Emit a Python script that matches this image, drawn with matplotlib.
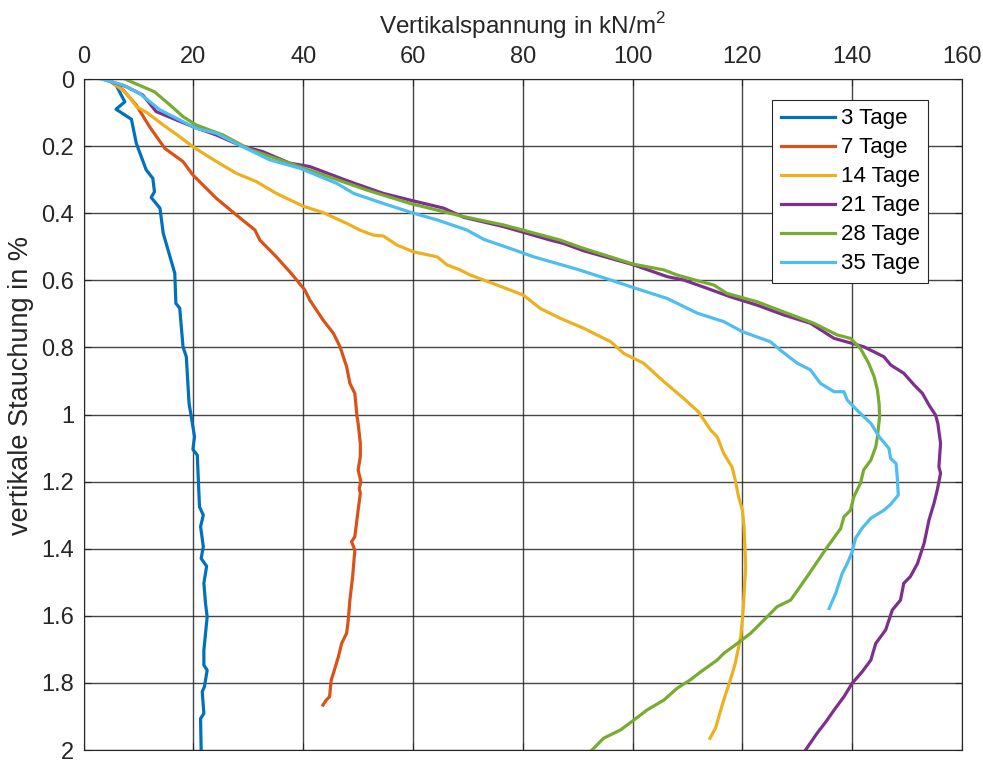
import matplotlib
matplotlib.use("Agg")
import matplotlib.pyplot as plt

plt.rcParams['font.family'] = ['Liberation Sans', 'DejaVu Sans']

# Vertikalspannung (kN/m²) und vertikale Stauchung (%) je Probenalter
tage_3_x = [4.4, 5.9, 7.5, 5.9, 8.7, 9.6, 11.4, 12.6, 12.9, 12.3, 13.9, 14.5, 16.0, 16.6, 16.8, 17.5,
            18.1, 18.7, 19.2, 19.6, 20.2, 19.9, 20.7, 21.1, 21.8, 21.3, 21.8, 21.4, 22.4, 21.9,
            22.2, 22.5, 21.9, 21.9, 22.5, 22.0, 21.6, 21.9, 21.3, 21.4]
tage_3_y = [0.0, 0.018, 0.068, 0.090, 0.120, 0.192, 0.271, 0.296, 0.336, 0.353, 0.385, 0.460, 0.545,
            0.579, 0.669, 0.683, 0.798, 0.828, 0.967, 1.006, 1.066, 1.104, 1.121, 1.275, 1.300,
            1.334, 1.394, 1.429, 1.452, 1.503, 1.563, 1.603, 1.702, 1.747, 1.762, 1.811, 1.826,
            1.891, 1.906, 2.0]

tage_7_x = [4.2, 7.2, 9.6, 12.0, 14.8, 18.1, 19.9, 24.2, 27.8, 31.2, 32.1, 35.1, 37.8, 40.3, 41.2,
            43.6, 45.5, 46.7, 47.9, 48.5, 49.4, 49.8, 50.0, 50.4, 50.4, 50.0, 50.5, 50.2, 50.4,
            50.0, 49.4, 48.8, 49.4, 49.0, 48.5, 48.2, 47.9, 47.0, 46.4, 45.5, 45.1, 44.8, 44.2, 43.6]
tage_7_y = [0.0, 0.033, 0.078, 0.142, 0.207, 0.246, 0.286, 0.356, 0.405, 0.450, 0.480, 0.530, 0.579,
            0.629, 0.659, 0.718, 0.758, 0.798, 0.857, 0.907, 0.937, 1.006, 1.026, 1.086, 1.126,
            1.165, 1.200, 1.220, 1.235, 1.285, 1.364, 1.379, 1.404, 1.483, 1.553, 1.613, 1.652,
            1.682, 1.722, 1.771, 1.791, 1.841, 1.851, 1.866]

tage_14_x = [4.5, 7.8, 9.6, 11.7, 14.5, 17.5, 19.9, 24.2, 27.8, 31.5, 35.1, 40.0, 43.6, 47.9, 50.3,
             52.7, 54.6, 57.1, 60.1, 64.4, 66.2, 68.6, 70.4, 75.3, 80.1, 83.2, 86.8, 91.1, 96.0,
             98.4, 102.0, 105.7, 109.3, 112.0, 114.2, 115.4, 116.6, 118.1, 118.7, 119.3, 120.0,
             120.3, 120.4, 120.6, 120.1, 119.7, 118.7, 117.8, 116.6, 115.7, 115.1, 114.1]
tage_14_y = [0.0, 0.043, 0.082, 0.102, 0.137, 0.172, 0.202, 0.246, 0.281, 0.306, 0.341, 0.379, 0.398,
             0.430, 0.450, 0.465, 0.468, 0.495, 0.515, 0.530, 0.554, 0.569, 0.584, 0.614, 0.644,
             0.684, 0.713, 0.743, 0.783, 0.818, 0.847, 0.902, 0.952, 0.992, 1.046, 1.066, 1.116,
             1.156, 1.195, 1.245, 1.285, 1.334, 1.374, 1.454, 1.593, 1.662, 1.742, 1.791, 1.851,
             1.901, 1.935, 1.965]

tage_21_x = [3.5, 7.8, 10.8, 13.2, 16.9, 19.9, 24.2, 28.4, 32.7, 37.6, 41.2, 48.5, 54.6, 59.5, 65.6,
             69.2, 76.5, 85.0, 87.4, 91.1, 100.2, 106.3, 109.3, 113.6, 117.8, 122.7, 127.5, 132.4,
             136.7, 140.0, 142.1, 145.8, 147.0, 149.4, 151.3, 152.8, 154.0, 155.2, 155.6, 156.1,
             155.8, 156.1, 155.5, 154.9, 154.0, 153.1, 151.9, 150.6, 149.4, 148.8, 147.3, 146.1,
             144.3, 143.4, 141.8, 140.0, 138.5, 136.7, 135.2, 133.6, 131.5]
tage_21_y = [0.0, 0.023, 0.048, 0.097, 0.122, 0.142, 0.167, 0.197, 0.217, 0.251, 0.261, 0.306, 0.341,
             0.361, 0.385, 0.412, 0.440, 0.480, 0.490, 0.512, 0.554, 0.589, 0.599, 0.624, 0.649,
             0.674, 0.703, 0.728, 0.773, 0.788, 0.798, 0.828, 0.852, 0.877, 0.912, 0.937, 0.972,
             1.002, 1.026, 1.086, 1.156, 1.175, 1.225, 1.265, 1.314, 1.384, 1.444, 1.483, 1.503,
             1.553, 1.583, 1.642, 1.682, 1.732, 1.767, 1.801, 1.841, 1.881, 1.916, 1.950, 2.0]

tage_28_x = [7.5, 12.9, 15.7, 18.1, 20.5, 25.4, 30.3, 40.7, 51.6, 59.5, 69.2, 76.5, 86.8, 91.1,
             100.2, 105.7, 108.1, 112.0, 114.8, 117.2, 122.7, 127.5, 133.0, 137.3, 139.7, 141.5,
             143.0, 144.0, 144.6, 144.9, 145.0, 144.6, 144.3, 143.4, 142.1, 141.5, 140.3, 139.7,
             138.5, 137.9, 135.5, 131.8, 128.8, 126.3, 124.5, 121.5, 119.1, 116.6, 115.4, 112.4,
             110.5, 108.1, 105.7, 102.6, 100.2, 97.8, 94.7, 92.6]
tage_28_y = [0.0, 0.038, 0.077, 0.112, 0.137, 0.167, 0.210, 0.269, 0.331, 0.371, 0.410, 0.435, 0.480,
             0.505, 0.552, 0.569, 0.584, 0.602, 0.614, 0.639, 0.664, 0.694, 0.728, 0.763, 0.773,
             0.803, 0.847, 0.887, 0.927, 0.967, 1.006, 1.066, 1.096, 1.136, 1.165, 1.205, 1.245,
             1.285, 1.305, 1.340, 1.394, 1.483, 1.553, 1.573, 1.603, 1.652, 1.682, 1.712, 1.732,
             1.767, 1.791, 1.816, 1.851, 1.881, 1.911, 1.940, 1.965, 2.0]

tage_35_x = [3.2, 7.2, 10.2, 13.9, 16.9, 20.5, 24.2, 28.4, 33.9, 39.4, 46.1, 49.2, 54.6, 60.1, 64.4,
             69.8, 72.9, 77.7, 82.0, 89.9, 96.0, 100.2, 106.3, 111.8, 116.6, 120.0, 125.1, 126.9,
             130.0, 132.4, 134.2, 136.7, 138.5, 139.1, 141.5, 143.4, 144.9, 146.7, 147.0, 148.0,
             148.2, 148.4, 147.0, 145.8, 143.4, 141.8, 140.6, 140.0, 139.1, 138.2, 137.6, 137.0, 135.8]
tage_35_y = [0.0, 0.018, 0.043, 0.092, 0.117, 0.147, 0.162, 0.197, 0.241, 0.266, 0.311, 0.341, 0.371,
             0.400, 0.420, 0.450, 0.478, 0.505, 0.530, 0.567, 0.599, 0.622, 0.654, 0.698, 0.723,
             0.753, 0.783, 0.808, 0.847, 0.867, 0.907, 0.932, 0.932, 0.957, 0.997, 1.026, 1.066,
             1.101, 1.131, 1.146, 1.185, 1.240, 1.268, 1.285, 1.309, 1.339, 1.369, 1.409, 1.444,
             1.473, 1.503, 1.533, 1.578]

series = [
    ("3 Tage", tage_3_x, tage_3_y, "#0072BD"),
    ("7 Tage", tage_7_x, tage_7_y, "#D95319"),
    ("14 Tage", tage_14_x, tage_14_y, "#EDB120"),
    ("21 Tage", tage_21_x, tage_21_y, "#7E2F8E"),
    ("28 Tage", tage_28_x, tage_28_y, "#77AC30"),
    ("35 Tage", tage_35_x, tage_35_y, "#4DBEEE"),
]

x_ticks = [0, 20, 40, 60, 80, 100, 120, 140, 160]
y_ticks = [0, 0.2, 0.4, 0.6, 0.8, 1, 1.2, 1.4, 1.6, 1.8, 2]
y_tick_labels = ["0", "0.2", "0.4", "0.6", "0.8", "1", "1.2", "1.4", "1.6", "1.8", "2"]

TXT = '#262626'

fig = plt.figure(figsize=(9.83, 7.62), dpi=100)
ax = fig.add_axes([0.0851, 0.0157, 0.8935, 0.8806])

for name, xs, ys, col in series:
    ax.plot(xs, ys, color=col, lw=2.3, label=name, solid_joinstyle='round')

ax.set_xlim(0, 160)
ax.set_ylim(2, 0)
ax.xaxis.tick_top()
ax.xaxis.set_label_position('top')
ax.set_xticks(x_ticks)
ax.set_yticks(y_ticks)
ax.set_yticklabels(y_tick_labels)
ax.tick_params(axis='both', labelsize=17, colors=TXT, direction='in', length=5, width=0.8,
               top=True, bottom=True, left=True, right=True)
ax.tick_params(axis='x', pad=8)
ax.tick_params(axis='y', pad=7)
ax.grid(True, color=TXT, lw=1.0, alpha=0.85)
ax.set_axisbelow(True)
for sp in ax.spines.values():
    sp.set_color(TXT)
    sp.set_linewidth(0.8)

ax.set_xlabel("Vertikalspannung in kN/m$^{\\mathregular{2}}$", fontsize=17.5, color=TXT, labelpad=9)
ax.set_ylabel("vertikale Stauchung in %", fontsize=19.5, color=TXT)
ax.yaxis.set_label_coords(-0.057, 0.544)

leg = ax.legend(loc='upper right', bbox_to_anchor=(0.9613, 0.9687), fontsize=16, frameon=True,
                fancybox=False, edgecolor=TXT, framealpha=1, handlelength=2.45,
                handletextpad=0.25, borderpad=0.38, labelspacing=0.36, borderaxespad=0)
leg.get_frame().set_linewidth(0.8)

fig.savefig("out.png", dpi=100)
